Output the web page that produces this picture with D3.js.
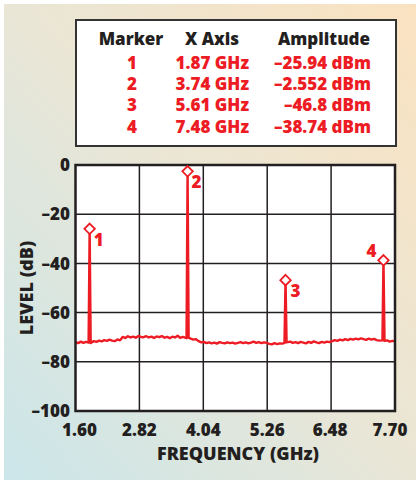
<!DOCTYPE html>
<html>
<head>
<meta charset="utf-8">
<script src="https://cdn.jsdelivr.net/npm/d3@7"></script>
<style>
  html, body { margin: 0; padding: 0; background: #fff; }
  svg { display: block; }
  text { font-family: "Open Sans", "DejaVu Sans", sans-serif; font-weight: 800; }
</style>
</head>
<body>
<svg id="chart" width="416" height="480"></svg>
<script>
// ---------- data ----------
const markerIds = ["1", "2", "3", "4"];
const markerFreqs = [1.87, 3.74, 5.61, 7.48];          // GHz
const markerLevels = [-25.94, -2.552, -46.8, -38.74];  // dBm
const markerFreqText = ["1.87 GHz", "3.74 GHz", "5.61 GHz", "7.48 GHz"];
const markerAmpText = ["–25.94 dBm", "–2.552 dBm", "–46.8 dBm", "–38.74 dBm"];
const tableHeaders = ["Marker", "X Axis", "Amplitude"];

const xTicks = [1.60, 2.82, 4.04, 5.26, 6.48, 7.70];
const xTickLabels = ["1.60", "2.82", "4.04", "5.26", "6.48", "7.70"];
const yTicks = [0, -20, -40, -60, -80, -100];
const yTickLabels = ["0", "–20", "–40", "–60", "–80", "–100"];

// noise floor trace [GHz, dB]
const noiseFloor = [
  [1.60,-72.0],[1.65,-72.4],[1.70,-71.8],[1.75,-72.3],[1.80,-71.9],[1.85,-72.2],
  [1.89,-72.4],[1.95,-71.6],[2.00,-71.9],[2.05,-71.4],[2.10,-71.7],[2.15,-71.2],
  [2.20,-71.5],[2.25,-71.0],[2.30,-71.4],[2.35,-71.6],[2.40,-70.9],[2.45,-71.3],
  [2.50,-69.9],[2.55,-70.3],[2.60,-69.6],[2.65,-70.1],[2.70,-69.8],[2.75,-70.2],
  [2.80,-69.5],[2.85,-69.9],[2.90,-70.0],[2.95,-69.6],[3.00,-70.1],[3.05,-69.8],
  [3.10,-70.3],[3.15,-69.7],[3.20,-70.0],[3.25,-69.5],[3.30,-70.2],[3.35,-69.9],
  [3.40,-70.4],[3.45,-69.8],[3.50,-70.1],[3.55,-69.4],[3.60,-70.3],[3.65,-69.9],
  [3.72,-70.4],[3.76,-70.2],[3.80,-70.6],[3.85,-71.0],[3.90,-70.8],[3.95,-71.6],
  [4.00,-72.1],[4.05,-71.9],[4.10,-72.4],[4.15,-72.1],[4.20,-72.5],[4.25,-72.2],
  [4.30,-72.6],[4.35,-72.0],[4.40,-72.3],[4.45,-72.5],[4.50,-72.1],[4.55,-72.4],
  [4.60,-72.2],[4.65,-72.6],[4.70,-72.3],[4.75,-72.0],[4.80,-72.4],[4.85,-72.1],
  [4.90,-72.5],[4.95,-72.2],[5.00,-71.8],[5.05,-72.3],[5.10,-72.0],[5.15,-72.4],
  [5.20,-72.1],[5.25,-72.3],[5.30,-72.7],[5.35,-72.9],[5.40,-72.4],[5.45,-72.8],
  [5.50,-72.5],[5.55,-72.6],[5.59,-72.3],[5.63,-72.1],[5.70,-71.8],[5.75,-72.3],
  [5.80,-72.0],[5.85,-72.4],[5.90,-71.9],[5.95,-72.2],[6.00,-72.5],[6.05,-71.9],
  [6.10,-72.3],[6.15,-71.7],[6.20,-72.1],[6.25,-72.4],[6.30,-71.9],[6.35,-72.2],
  [6.40,-71.8],[6.45,-72.0],[6.50,-71.6],[6.55,-71.2],[6.60,-71.5],[6.65,-71.0],
  [6.70,-71.3],[6.75,-70.8],[6.80,-71.2],[6.85,-70.7],[6.90,-71.0],[6.95,-70.6],
  [7.00,-70.9],[7.05,-70.5],[7.10,-70.8],[7.15,-71.1],[7.20,-70.6],[7.25,-71.0],
  [7.30,-70.7],[7.35,-71.2],[7.40,-71.4],[7.46,-71.3],[7.50,-71.5],[7.55,-71.3],
  [7.60,-71.8],[7.65,-71.5],[7.70,-71.7]
];

// ---------- layout ----------
const W = 416, H = 480;
const red = "#ed1c24", ink = "#231f20";
const svg = d3.select("#chart");

// background gradient
const defs = svg.append("defs");
const grad = defs.append("linearGradient").attr("id", "bg")
  .attr("x1", "0%").attr("y1", "100%").attr("x2", "100%").attr("y2", "0%");
grad.append("stop").attr("offset", "0%").attr("stop-color", "#cbe6ea");
grad.append("stop").attr("offset", "50%").attr("stop-color", "#e9e6d6");
grad.append("stop").attr("offset", "100%").attr("stop-color", "#fae2c0");
svg.append("rect").attr("width", W).attr("height", H).attr("fill", "#fff");
svg.append("rect").attr("x", 4).attr("y", 4).attr("width", W - 4).attr("height", H - 4)
  .attr("fill", "url(#bg)");

// ---------- table ----------
const tbl = svg.append("g");
tbl.append("rect").attr("x", 76).attr("y", 20).attr("width", 320).attr("height", 126)
  .attr("fill", "#fff").attr("stroke", "#333").attr("stroke-width", 2);
const colX = [131, 212, 324];
tbl.selectAll("text.h").data(tableHeaders).join("text").attr("class", "h")
  .attr("x", (d, i) => colX[i]).attr("y", 45).attr("text-anchor", "middle")
  .attr("font-size", 17).attr("fill", ink).text(d => d);
const rowY = d3.scaleLinear().domain([0, 3]).range([69, 132.5]);
markerIds.forEach((id, i) => {
  tbl.append("text").attr("x", 132).attr("y", rowY(i)).attr("text-anchor", "middle")
    .attr("font-size", 17).attr("fill", red).text(id);
  tbl.append("text").attr("x", 249).attr("y", rowY(i)).attr("text-anchor", "end")
    .attr("font-size", 17).attr("fill", red).text(markerFreqText[i]);
  tbl.append("text").attr("x", 371).attr("y", rowY(i)).attr("text-anchor", "end")
    .attr("font-size", 17).attr("fill", red).text(markerAmpText[i]);
});

// ---------- plot ----------
const x = d3.scaleLinear().domain([1.60, 7.70]).range([75.5, 395]);
const y = d3.scaleLinear().domain([-100, 0]).range([411, 165]);

const plot = svg.append("g");
plot.append("rect").attr("x", x(1.60)).attr("y", y(0))
  .attr("width", x(7.70) - x(1.60)).attr("height", y(-100) - y(0)).attr("fill", "#fff");

plot.selectAll("line.vg").data(xTicks.slice(1, -1)).join("line").attr("class", "vg")
  .attr("x1", d => x(d)).attr("x2", d => x(d)).attr("y1", y(0)).attr("y2", y(-100))
  .attr("stroke", ink).attr("stroke-width", 1.5);
plot.selectAll("line.hg").data(yTicks.slice(1, -1)).join("line").attr("class", "hg")
  .attr("y1", d => y(d)).attr("y2", d => y(d)).attr("x1", x(1.60)).attr("x2", x(7.70))
  .attr("stroke", ink).attr("stroke-width", 1.5);

// trace: noise floor with spikes
const spikes = markerFreqs.map((f, i) => [f, markerLevels[i]]);
const trace = noiseFloor.concat(spikes).sort((a, b) => a[0] - b[0]);
const line = d3.line().x(d => x(d[0])).y(d => y(d[1]));
plot.append("path").datum(trace).attr("d", line)
  .attr("fill", "none").attr("stroke", red).attr("stroke-width", 2.4)
  .attr("stroke-linejoin", "round");

// frame
plot.append("rect").attr("x", x(1.60)).attr("y", y(0))
  .attr("width", x(7.70) - x(1.60)).attr("height", y(-100) - y(0))
  .attr("fill", "none").attr("stroke", ink).attr("stroke-width", 2.5);

// markers
const diamond = d3.symbol().type(d3.symbolDiamond2).size(70);
plot.selectAll("path.mk").data(spikes).join("path").attr("class", "mk")
  .attr("transform", d => `translate(${x(d[0])},${y(d[1])})`)
  .attr("d", diamond).attr("fill", "#fff").attr("stroke", red).attr("stroke-width", 1.8);
const labelOffsets = [[9, 17], [9, 17], [10, 17], [-12, -3]];
plot.selectAll("text.ml").data(spikes).join("text").attr("class", "ml")
  .attr("x", (d, i) => x(d[0]) + labelOffsets[i][0])
  .attr("y", (d, i) => y(d[1]) + labelOffsets[i][1])
  .attr("text-anchor", "middle").attr("font-size", 17).attr("fill", red)
  .text((d, i) => markerIds[i]);

// axes labels
svg.selectAll("text.yt").data(yTicks).join("text").attr("class", "yt")
  .attr("x", 70).attr("y", d => y(d)).attr("dy", "0.36em").attr("text-anchor", "end")
  .attr("font-size", 17).attr("fill", ink).text((d, i) => yTickLabels[i]);
const xShift = [4, 0, 0, 0, -1, -5];
svg.selectAll("text.xt").data(xTicks).join("text").attr("class", "xt")
  .attr("x", (d, i) => x(d) + xShift[i]).attr("y", 436).attr("text-anchor", "middle")
  .attr("font-size", 17).attr("fill", ink).text((d, i) => xTickLabels[i]);

svg.append("text").attr("x", 238).attr("y", 460).attr("text-anchor", "middle")
  .attr("font-size", 18).attr("fill", ink).text("FREQUENCY (GHz)");
svg.append("text").attr("transform", `translate(33,288) rotate(-90)`)
  .attr("text-anchor", "middle").attr("font-size", 18).attr("fill", ink).text("LEVEL (dB)");
</script>
</body>
</html>
